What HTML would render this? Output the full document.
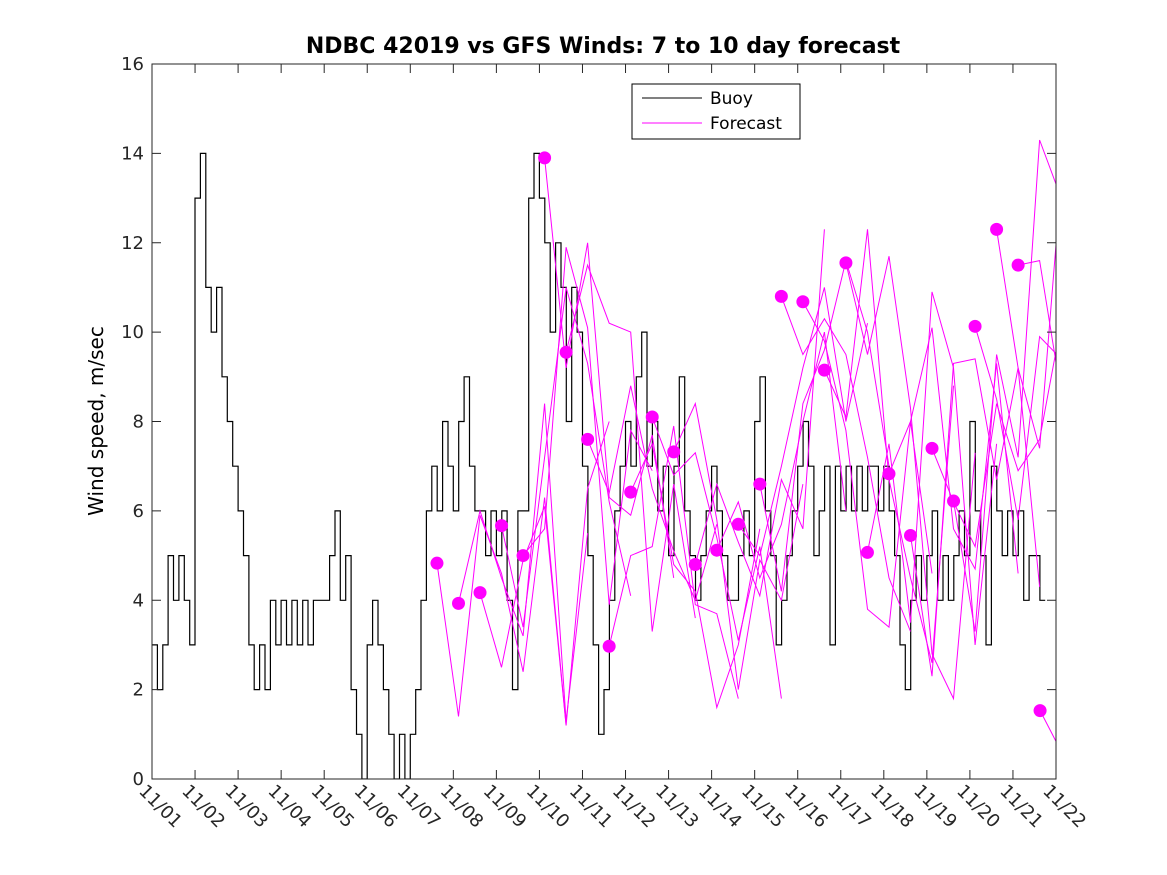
<!DOCTYPE html>
<html><head><meta charset="utf-8"><style>
body{margin:0;background:#fff}
svg{display:block;font-family:"DejaVu Sans","Liberation Sans",sans-serif}
</style></head><body>
<svg id="chart" width="1167" height="875">
<rect width="1167" height="875" fill="#fff"/>
<defs><clipPath id="pc"><rect x="152" y="64" width="904" height="715"/></clipPath></defs>
<g id="marks" clip-path="url(#pc)"></g>
<g id="axes"></g>
<text x="603" y="53" text-anchor="middle" font-weight="bold" font-size="22">NDBC 42019 vs GFS Winds: 7 to 10 day forecast</text>
<text transform="translate(103,421) rotate(-90)" text-anchor="middle" font-size="20">Wind speed, m/sec</text>
<g>
<rect x="632" y="84" width="168" height="55" fill="#fff" stroke="#000" stroke-width="1"/>
<line x1="642" y1="98" x2="702" y2="98" stroke="#000"/>
<text x="710" y="104" font-size="17">Buoy</text>
<line x1="642" y1="123" x2="702" y2="123" stroke="#f0f"/>
<text x="710" y="129" font-size="17">Forecast</text>
</g>
</svg>
<script>
const xTickLabels=["11/01","11/02","11/03","11/04","11/05","11/06","11/07","11/08","11/09","11/10","11/11","11/12","11/13","11/14","11/15","11/16","11/17","11/18","11/19","11/20","11/21","11/22"];
const yTicks=[0,2,4,6,8,10,12,14,16];
const buoyStep=0.125;
const buoy=[3,2,3,5,4,5,4,3, 13,14,11,10,11,9,8,7, 6,5,3,2,3,2,4,3, 4,3,4,3,4,3,4,4,
4,5,6,4,5,2,1,0, 3,4,3,2,1,0,1,0, 1,2,4,6,7,6,8,7, 6,8,9,7,6,6,5,6,
5,6,4,2,6,6,13,14, 13,12,10,12,11,8,11,10, 7,5,3,1,2,4,6,7, 8,7,9,10,7,8,6,7,
5,7,9,6,5,4,5,6, 7,6,5,4,4,5,6,5, 8,9,6,5,3,4,5,6, 7,8,7,5,6,7,3,7,
6,7,6,7,6,7,7,6, 7,6,5,3,2,4,5,4, 5,6,4,5,4,5,6,5, 8,6,5,3,7,6,5,6, 5,6,4,5,5,4];
const fcStart=[6.62,7.12,7.62,8.12,8.62,9.12,9.62,10.12,10.62,11.12,11.62,12.12,12.62,13.12,13.62,14.12,14.62,15.12,15.62,16.12,16.62,17.12,17.62,18.12,18.62,19.12,19.62,20.12,20.63];
const fcStep=0.5;
const fc0=[4.83,1.4,5.9,4.6,2.4,6.3,1.2];
const fc1=[3.93,6.0,4.5,3.2,8.4,1.3,5.5];
const fc2=[4.17,2.5,4.9,6.1,1.2,6.5,8.0];
const fc3=[5.67,3.4,7.2,11.0,9.3,6.2,4.1];
const fc4=[5.0,5.6,11.9,10.1,3.9,7.8,6.9];
const fc5=[13.9,9.2,12.0,6.3,5.9,7.7,4.5];
const fc6=[9.55,11.5,10.2,10.0,3.3,6.6,3.6];
const fc7=[7.6,6.4,8.8,6.5,5.1,4.0,5.7];
const fc8=[2.97,5.0,5.2,7.9,3.9,3.7,1.8];
const fc9=[6.42,7.5,4.8,4.2,1.6,3.0,5.6];
const fc10=[8.1,6.8,7.3,5.4,3.1,5.2,1.8];
const fc11=[7.32,8.4,5.8,2.0,4.9,4.0,6.6];
const fc12=[4.8,6.6,5.3,4.1,6.7,5.6,12.3];
const fc13=[5.12,6.2,4.5,5.7,8.0,10.0,6.0];
const fc14=[5.7,5.0,7.0,9.2,11.0,8.0,10.2];
const fc15=[6.6,4.2,8.4,9.6,11.6,10.0,7.0];
const fc16=[10.8,9.5,10.3,9.5,7.2,4.5,3.3];
const fc17=[10.68,9.8,7.8,3.8,3.4,8.0,4.6];
const fc18=[9.15,8.1,12.3,6.7,4.5,2.6,8.8];
const fc19=[11.55,9.5,11.7,8.3,2.8,1.8,7.3];
const fc20=[5.07,7.5,3.5,10.9,9.2,3.0,7.5];
const fc21=[6.83,8.0,10.1,5.6,4.7,9.3,4.6];
const fc22=[5.45,2.3,9.3,9.4,6.7,9.2,4.3];
const fc23=[7.4,6.2,5.2,8.4,6.9,7.6,10.2];
const fc24=[6.22,3.3,9.5,7.2,14.3,13.0,5.7];
const fc25=[10.13,8.5,5.8,9.9,9.4,5.0,15.8];
const fc26=[12.3,9.2,7.4,13.4,11.6,8.2,9.0];
const fc27=[11.5,11.6,8.6,8.0,11.7,9.3,7.2];
const fc28=[1.53,0.6,2.9,2.6];
const forecasts=[fc0,fc1,fc2,fc3,fc4,fc5,fc6,fc7,fc8,fc9,fc10,fc11,fc12,fc13,fc14,fc15,fc16,fc17,fc18,fc19,fc20,fc21,fc22,fc23,fc24,fc25,fc26,fc27,fc28];

const X0=152,X1=1056,Y0=779,Y1=64;
const xs=d=>X0+(X1-X0)*d/21;
const ys=v=>Y0-(Y0-Y1)*v/16;
const NS="http://www.w3.org/2000/svg";
const marks=document.getElementById('marks'),axes=document.getElementById('axes');
function mk(tag,attrs,parent){const e=document.createElementNS(NS,tag);for(const k in attrs)e.setAttribute(k,attrs[k]);parent.appendChild(e);return e;}

let d="";
buoy.forEach((v,i)=>{const x0=xs(i*buoyStep),x1=xs((i+1)*buoyStep);d+=(i?"L":"M")+x0.toFixed(1)+","+ys(v).toFixed(1)+"L"+x1.toFixed(1)+","+ys(v).toFixed(1);});
const bl=mk('path',{d:d,fill:'none',stroke:'#000','stroke-width':1.2},marks);



forecasts.forEach((arr,k)=>{
  const pts=arr.map((v,i)=>xs(fcStart[k]+i*fcStep).toFixed(1)+","+ys(v).toFixed(1)).join(" ");
  const pl=mk('polyline',{points:pts,fill:'none',stroke:'#f0f','stroke-width':1},marks);
  
  
});
forecasts.forEach((arr,k)=>{
  const c=mk('circle',{cx:xs(fcStart[k]),cy:ys(arr[0]),r:6.5,fill:'#f0f'},marks);
  
  
});

const box=mk('rect',{x:X0,y:Y1,width:X1-X0,height:Y0-Y1,fill:'none',stroke:'#262626','stroke-width':1},axes);


yTicks.forEach(v=>{
  const y=ys(v);
  mk('line',{x1:X0,y1:y,x2:X0+9,y2:y,stroke:'#262626'},axes);
  mk('line',{x1:X1,y1:y,x2:X1-9,y2:y,stroke:'#262626'},axes);
  const t=mk('text',{x:X0-8,y:y+6,'text-anchor':'end','font-size':18,fill:'#262626'},axes);
  t.textContent=v;
  
  
});
xTickLabels.forEach((s,i)=>{
  const x=xs(i);
  mk('line',{x1:x,y1:Y0,x2:x,y2:Y0-9,stroke:'#262626'},axes);
  mk('line',{x1:x,y1:Y1,x2:x,y2:Y1+9,stroke:'#262626'},axes);
  const t=mk('text',{transform:`translate(${x-14},${Y0+13}) rotate(45)`,'font-size':18,fill:'#262626'},axes);
  t.textContent=s;
  
  
});
</script>
</body></html>
